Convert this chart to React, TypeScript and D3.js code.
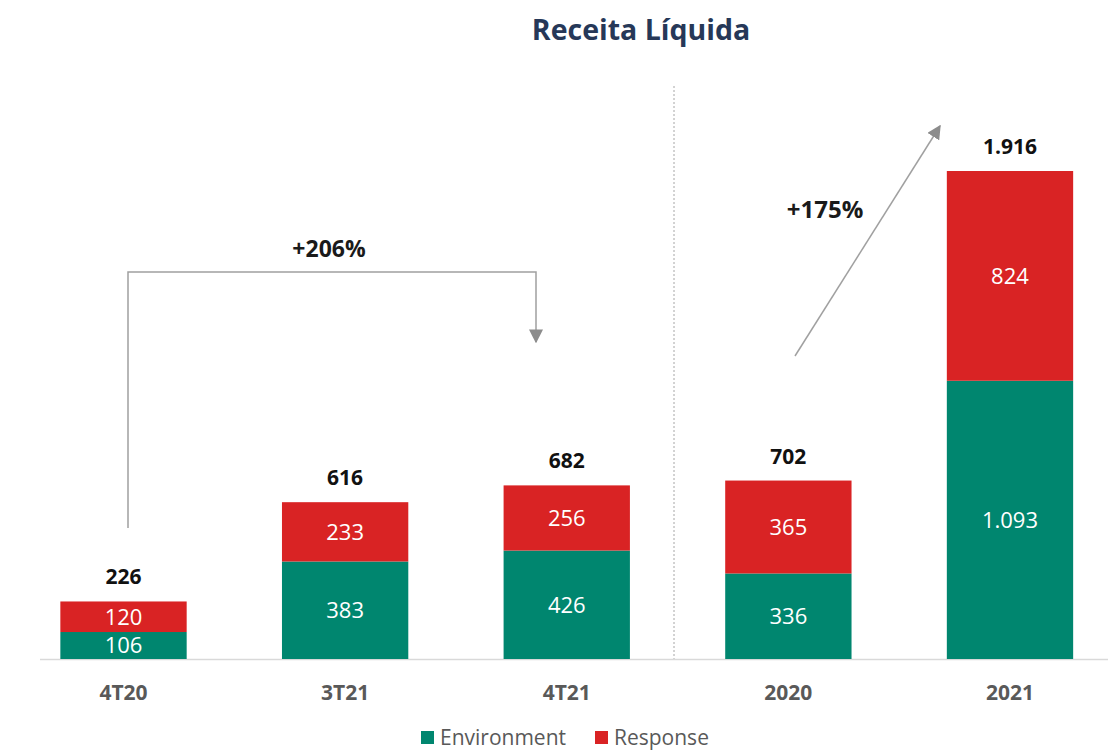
import { useEffect, useRef } from 'react';
import * as d3 from 'd3';

const categories = ['4T20', '3T21', '4T21', '2020', '2021'];
const environment = [106, 383, 426, 336, 1093];
const response = [120, 233, 256, 365, 824];
const totals = ['226', '616', '682', '702', '1.916'];
const envLabels = ['106', '383', '426', '336', '1.093'];
const resLabels = ['120', '233', '256', '365', '824'];
const seriesNames = ['Environment', 'Response'];
const seriesColors = ['#00866f', '#d92324'];

const App = () => {
	const ref = useRef<SVGSVGElement>(null);

	useEffect(() => {
		const width = 1108,
			height = 751;
		const baseY = 659;
		const font = "'Open Sans', 'Noto Sans', sans-serif";

		const svg = d3.select(ref.current).attr('width', width).attr('height', height);
		svg.selectAll('*').remove();

		const x = d3
			.scaleBand()
			.domain(categories)
			.range([12.7, 1120.8])
			.paddingInner(0.43)
			.paddingOuter(0.215);

		const maxTotal = d3.max(categories.map((_, i) => environment[i] + response[i])) as number;
		const y = d3.scaleLinear().domain([0, maxTotal]).range([baseY, 171]);

		// Title
		svg
			.append('text')
			.attr('x', 641)
			.attr('y', 40)
			.attr('text-anchor', 'middle')
			.style('font-family', font)
			.style('font-weight', 700)
			.style('font-size', '28.5px')
			.attr('fill', '#263858')
			.text('Receita Líquida');

		// Separator between quarters and years
		svg
			.append('line')
			.attr('x1', 674)
			.attr('x2', 674)
			.attr('y1', 86)
			.attr('y2', baseY)
			.attr('stroke', '#a6a6a6')
			.attr('stroke-width', 1)
			.attr('stroke-dasharray', '2,2');

		// Axis line
		svg
			.append('line')
			.attr('x1', 40)
			.attr('x2', width)
			.attr('y1', baseY + 0.5)
			.attr('y2', baseY + 0.5)
			.attr('stroke', '#d9d9d9')
			.attr('stroke-width', 1.5);

		const data = categories.map((c, i) => ({
			c,
			env: environment[i],
			res: response[i],
			total: totals[i],
			envLabel: envLabels[i],
			resLabel: resLabels[i],
		}));

		const bars = svg.append('g');
		// Environment
		bars
			.selectAll('rect.env')
			.data(data)
			.join('rect')
			.attr('class', 'env')
			.attr('x', (d) => x(d.c) as number)
			.attr('y', (d) => y(d.env))
			.attr('width', x.bandwidth())
			.attr('height', (d) => y(0) - y(d.env))
			.attr('fill', seriesColors[0]);
		// Response
		bars
			.selectAll('rect.res')
			.data(data)
			.join('rect')
			.attr('class', 'res')
			.attr('x', (d) => x(d.c) as number)
			.attr('y', (d) => y(d.env + d.res))
			.attr('width', x.bandwidth())
			.attr('height', (d) => y(d.env) - y(d.env + d.res))
			.attr('fill', seriesColors[1]);

		// Segment labels
		const seg = svg
			.append('g')
			.style('font-family', font)
			.style('font-size', '22px')
			.attr('fill', '#ffffff')
			.attr('text-anchor', 'middle');
		seg
			.selectAll('text.env')
			.data(data)
			.join('text')
			.attr('class', 'env')
			.attr('x', (d) => (x(d.c) as number) + x.bandwidth() / 2)
			.attr('y', (d) => (y(0) + y(d.env)) / 2)
			.attr('dy', '0.36em')
			.text((d) => d.envLabel);
		seg
			.selectAll('text.res')
			.data(data)
			.join('text')
			.attr('class', 'res')
			.attr('x', (d) => (x(d.c) as number) + x.bandwidth() / 2)
			.attr('y', (d) => (y(d.env) + y(d.env + d.res)) / 2)
			.attr('dy', '0.36em')
			.text((d) => d.resLabel);

		// Totals
		svg
			.append('g')
			.selectAll('text')
			.data(data)
			.join('text')
			.attr('x', (d) => (x(d.c) as number) + x.bandwidth() / 2)
			.attr('y', (d) => y(d.env + d.res) - 17)
			.attr('text-anchor', 'middle')
			.style('font-family', font)
			.style('font-weight', 700)
			.style('font-size', '21px')
			.attr('fill', '#111111')
			.text((d) => d.total);

		// Category labels
		svg
			.append('g')
			.selectAll('text')
			.data(categories)
			.join('text')
			.attr('x', (d) => (x(d) as number) + x.bandwidth() / 2)
			.attr('y', 700)
			.attr('text-anchor', 'middle')
			.style('font-family', font)
			.style('font-weight', 700)
			.style('font-size', '21px')
			.attr('fill', '#595959')
			.text((d) => d);

		// Arrow markers
		const defs = svg.append('defs');
		defs
			.append('marker')
			.attr('id', 'arrowhead')
			.attr('viewBox', '0 0 10 10')
			.attr('refX', 9)
			.attr('refY', 5)
			.attr('markerWidth', 14)
			.attr('markerHeight', 14)
			.attr('markerUnits', 'userSpaceOnUse')
			.attr('orient', 'auto')
			.append('path')
			.attr('d', 'M0,0 L10,5 L0,10 Z')
			.attr('fill', '#8c8c8c');

		// +206% bracket
		svg
			.append('path')
			.attr('d', 'M128,528 V272 H536 V342')
			.attr('fill', 'none')
			.attr('stroke', '#a0a0a0')
			.attr('stroke-width', 1.5)
			.attr('marker-end', 'url(#arrowhead)');
		svg
			.append('text')
			.attr('x', 329)
			.attr('y', 257)
			.attr('text-anchor', 'middle')
			.style('font-family', font)
			.style('font-weight', 700)
			.style('font-size', '23px')
			.attr('fill', '#1a1a1a')
			.text('+206%');

		// +175% arrow
		svg
			.append('line')
			.attr('x1', 795)
			.attr('y1', 356)
			.attr('x2', 940)
			.attr('y2', 126)
			.attr('stroke', '#a0a0a0')
			.attr('stroke-width', 1.5)
			.attr('marker-end', 'url(#arrowhead)');
		svg
			.append('text')
			.attr('x', 825)
			.attr('y', 218)
			.attr('text-anchor', 'middle')
			.style('font-family', font)
			.style('font-weight', 700)
			.style('font-size', '24px')
			.attr('fill', '#1a1a1a')
			.text('+175%');

		// Legend
		const legend = svg.append('g').attr('transform', 'translate(421, 737)');
		const items = [
			{ name: seriesNames[0], color: seriesColors[0], x: 0 },
			{ name: seriesNames[1], color: seriesColors[1], x: 174 },
		];
		items.forEach((it) => {
			legend
				.append('rect')
				.attr('x', it.x)
				.attr('y', -6)
				.attr('width', 13)
				.attr('height', 13)
				.attr('fill', it.color);
			legend
				.append('text')
				.attr('x', it.x + 19)
				.attr('y', 0)
				.attr('dy', '0.36em')
				.style('font-family', font)
				.style('font-size', '21px')
				.attr('fill', '#595959')
				.text(it.name);
		});
	}, []);

	return (
		<svg
			ref={ref}
			style={{ position: 'absolute', left: 0, top: 0, display: 'block' }}
			width={1108}
			height={751}
		></svg>
	);
};

export default App;
